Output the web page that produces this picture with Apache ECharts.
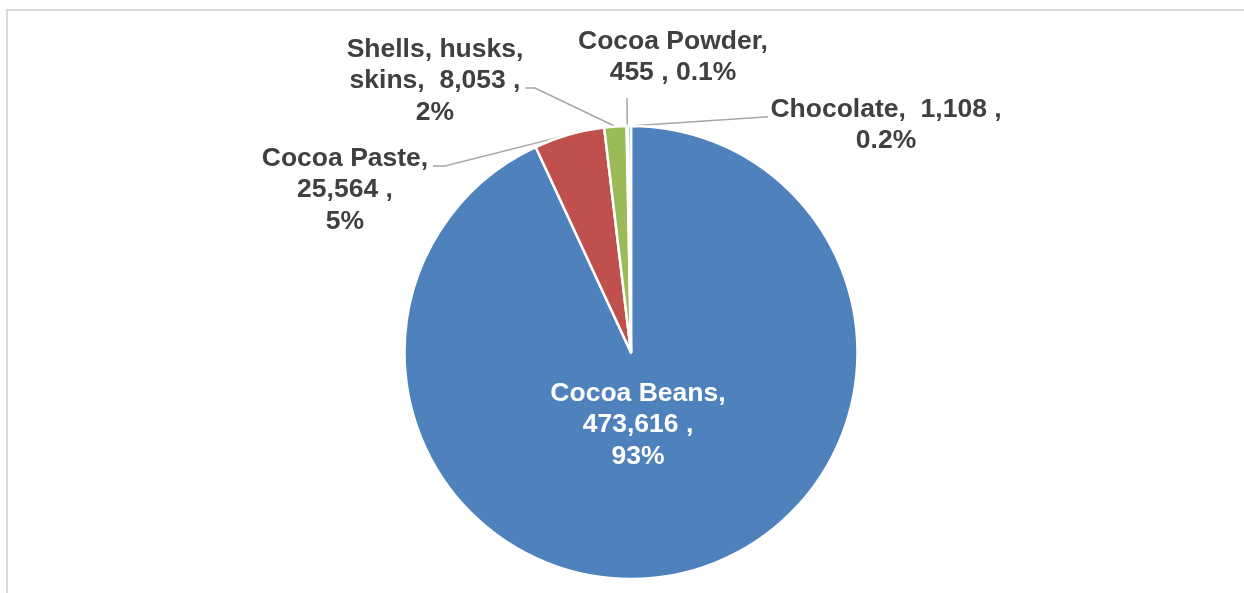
<!DOCTYPE html>
<html>
<head>
<meta charset="utf-8">
<script src="https://cdn.jsdelivr.net/npm/echarts@6/dist/echarts.min.js"></script>
<style>
html,body{margin:0;padding:0;background:#fff;}
#chart{width:1244px;height:593px;}
</style>
</head>
<body>
<div id="chart"></div>
<script>
const categories = ["Cocoa Beans", "Cocoa Paste", "Shells, husks, skins", "Cocoa Powder", "Chocolate"];
const values = [473616, 25564, 8053, 455, 1108];
const colors = ["#4F81BD", "#C0504D", "#9BBB59", "#8064A2", "#4BACC6"];

const total = values.reduce((a, b) => a + b, 0);
function pctText(v) {
  const p = v / total * 100;
  return (p >= 1 ? Math.round(p) : p.toFixed(1)) + "%";
}
function fmt(v) { return v.toLocaleString("en-US"); }

// label text wrapping per slice (Excel-style)
function labelText(i) {
  const n = categories[i], v = fmt(values[i]), p = pctText(values[i]);
  switch (i) {
    case 2: {
      const parts = n.split(", ");
      return parts[0] + ", " + parts[1] + ",\n" + parts[2] + ",  " + v + " ,\n" + p;
    }
    case 3: return n + ",\n" + v + " , " + p;
    case 4: return n + ",  " + v + " ,\n" + p;
    default: return n + ",\n" + v + " ,\n" + p;
  }
}

// label block centers (layout)
const labelPos = [
  [638, 425],
  [345, 190],
  [435, 81],
  [673, 57],
  [886, 125]
];
// leader-line bend and end points near each label (layout)
const leaderEnds = [
  null,
  [[445, 166], [433, 166]],
  [[535, 88], [525, 88]],
  [[627, 98], [627, 98]],
  [[765, 117], [768, 117]]
];

const chart = echarts.init(document.getElementById("chart"), null, {renderer: "canvas"});

function arcMid(idx) {
  try {
    const data = chart.getModel().getSeriesByIndex(0).getData();
    const l = data.getItemLayout(idx);
    const a = (l.startAngle + l.endAngle) / 2;
    return [l.cx + l.r * Math.cos(a), l.cy + l.r * Math.sin(a)];
  } catch (e) {
    return null;
  }
}

chart.setOption({
  animation: false,
  backgroundColor: "#fff",
  graphic: [{
    type: "rect",
    shape: {x: 7, y: 10, width: 1400, height: 800},
    style: {fill: "none", stroke: "#d9d9d9", lineWidth: 2},
    silent: true
  }],
  series: [{
    type: "pie",
    center: [631, 352.5],
    radius: [0, 226.5],
    startAngle: 90,
    clockwise: true,
    avoidLabelOverlap: false,
    minShowLabelAngle: 0,
    itemStyle: {borderColor: "#fff", borderWidth: 2.5},
    label: {
      show: true,
      position: "outside",
      formatter: p => labelText(p.dataIndex),
      fontFamily: "Liberation Sans, Arial, sans-serif",
      fontWeight: "bold",
      fontSize: 26.5,
      lineHeight: 31.5,
      color: "#404040",
      align: "center"
    },
    labelLine: {
      show: true,
      length: 20,
      length2: 10,
      lineStyle: {color: "#A6A6A6", width: 1.5}
    },
    labelLayout: function (params) {
      const i = params.dataIndex;
      const pos = labelPos[i];
      const out = {x: pos[0], y: pos[1], align: "center", verticalAlign: "middle"};
      const start = arcMid(i);
      if (leaderEnds[i] && start) {
        out.labelLinePoints = [start, leaderEnds[i][0], leaderEnds[i][1]];
      }
      return out;
    },
    data: categories.map((c, i) => ({
      name: c,
      value: values[i],
      itemStyle: {color: colors[i]},
      label: i === 0 ? {position: "inside", color: "#fff"} : {},
      labelLine: i === 0 ? {show: false} : {}
    }))
  }]
});
</script>
</body>
</html>
